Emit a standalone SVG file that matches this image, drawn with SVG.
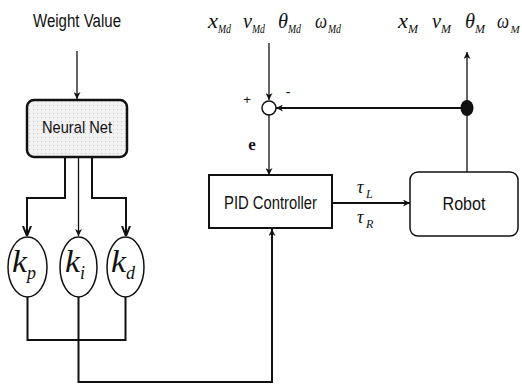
<svg xmlns="http://www.w3.org/2000/svg" width="522" height="386" viewBox="0 0 522 386">
<style>
.sans{font-family:"Liberation Sans",Arial,sans-serif;fill:#111}
.math{font-family:"Liberation Serif","Times New Roman",serif;font-style:italic;fill:#111}
.ln{fill:none;stroke:#111;stroke-width:2}
.thin{fill:none;stroke:#111;stroke-width:1.3}
.box{fill:#fff;stroke:#111;stroke-width:2}
</style>
<defs>
<marker id="ah" viewBox="0 0 10 10" refX="10" refY="5" markerWidth="7" markerHeight="7" markerUnits="userSpaceOnUse" orient="auto">
<path d="M0,0 L10,5 L0,10 L3,5 Z" fill="#111"/>
</marker>
<marker id="av" viewBox="0 0 10 10" refX="10" refY="5" markerWidth="10" markerHeight="10" markerUnits="userSpaceOnUse" orient="auto">
<path d="M0,1 L10,5 L0,9" fill="none" stroke="#111" stroke-width="2"/>
</marker>
<pattern id="stip" width="4" height="4" patternUnits="userSpaceOnUse">
<rect width="4" height="4" fill="#f2f2f2"/>
<rect x="1" y="1" width="1" height="1" fill="#c8c8c8"/>
</pattern>
</defs>

<g id="labels">
<text class="sans" x="77" y="27" font-size="18" text-anchor="middle" textLength="88" lengthAdjust="spacingAndGlyphs">Weight Value</text>
<text class="math" x="208" y="28" font-size="21" textLength="10" lengthAdjust="spacingAndGlyphs">x</text>
<text class="math" x="218" y="33" font-size="12" textLength="13" lengthAdjust="spacingAndGlyphs">Md</text>
<text class="math" x="243" y="28" font-size="21" textLength="9" lengthAdjust="spacingAndGlyphs">v</text>
<text class="math" x="252" y="33" font-size="12" textLength="13" lengthAdjust="spacingAndGlyphs">Md</text>
<text class="math" x="278" y="28" font-size="21" textLength="10" lengthAdjust="spacingAndGlyphs">θ</text>
<text class="math" x="288" y="33" font-size="12" textLength="13" lengthAdjust="spacingAndGlyphs">Md</text>
<text class="math" x="315" y="28" font-size="21" textLength="12" lengthAdjust="spacingAndGlyphs">ω</text>
<text class="math" x="328" y="33" font-size="12" textLength="13" lengthAdjust="spacingAndGlyphs">Md</text>
<text class="math" x="398" y="28" font-size="21" textLength="10" lengthAdjust="spacingAndGlyphs">x</text>
<text class="math" x="408" y="33" font-size="12">M</text>
<text class="math" x="432" y="28" font-size="21" textLength="9" lengthAdjust="spacingAndGlyphs">v</text>
<text class="math" x="441" y="33" font-size="12">M</text>
<text class="math" x="465" y="28" font-size="21" textLength="10" lengthAdjust="spacingAndGlyphs">θ</text>
<text class="math" x="475" y="33" font-size="12">M</text>
<text class="math" x="497" y="28" font-size="21" textLength="12" lengthAdjust="spacingAndGlyphs">ω</text>
<text class="math" x="510.5" y="33" font-size="11">M</text>
<text class="sans" x="247" y="104" font-size="13" text-anchor="middle">+</text>
<text class="sans" x="288" y="97" font-size="14" text-anchor="middle">-</text>
<text x="252" y="150" font-family="Liberation Serif,serif" font-weight="bold" font-size="17" text-anchor="middle" fill="#111">e</text>
<text class="math" x="357" y="193" font-size="18">τ</text>
<text class="math" x="366" y="198" font-size="12">L</text>
<text class="math" x="357" y="223" font-size="18">τ</text>
<text class="math" x="366" y="228" font-size="12">R</text>
</g>

<g id="neural-net">
<rect x="27" y="100" width="100" height="57" rx="7" fill="url(#stip)" stroke="#111" stroke-width="2.5"/>
<text class="sans" x="77" y="133" font-size="17" text-anchor="middle" textLength="70" lengthAdjust="spacingAndGlyphs">Neural Net</text>
</g>

<g id="kp">
<ellipse cx="27.5" cy="267" rx="19.5" ry="30" fill="#fff" stroke="#111" stroke-width="1.5"/>
<text class="math" x="12" y="272" font-size="32" textLength="15" lengthAdjust="spacingAndGlyphs">k</text>
<text class="math" x="27" y="279" font-size="18">p</text>
</g>
<g id="ki">
<ellipse cx="78.5" cy="267" rx="18.5" ry="30" fill="#fff" stroke="#111" stroke-width="1.5"/>
<text class="math" x="65" y="272" font-size="32" textLength="15" lengthAdjust="spacingAndGlyphs">k</text>
<text class="math" x="80" y="279" font-size="18">i</text>
</g>
<g id="kd">
<ellipse cx="125.5" cy="267" rx="18.5" ry="30" fill="#fff" stroke="#111" stroke-width="1.5"/>
<text class="math" x="111" y="272" font-size="32" textLength="15" lengthAdjust="spacingAndGlyphs">k</text>
<text class="math" x="126" y="279" font-size="18">d</text>
</g>

<g id="sum">
<circle cx="269" cy="108" r="7" fill="#fff" stroke="#111" stroke-width="1.5"/>
</g>
<g id="branch">
<ellipse cx="467" cy="108" rx="6.5" ry="8" fill="#111"/>
</g>

<g id="pid">
<rect x="209" y="175" width="123" height="53" class="box" stroke-width="2.5"/>
<text class="sans" x="270.5" y="209" font-size="18" text-anchor="middle" textLength="93" lengthAdjust="spacingAndGlyphs">PID Controller</text>
</g>

<g id="robot">
<rect x="410" y="172" width="108" height="64" rx="8" fill="#fff" stroke="#111" stroke-width="1.5"/>
<text class="sans" x="464" y="210" font-size="18" text-anchor="middle" textLength="43" lengthAdjust="spacingAndGlyphs">Robot</text>
</g>

<g id="connectors">
<line class="thin" x1="77" y1="51" x2="77" y2="99" marker-end="url(#ah)"/>
<polyline class="ln" points="65,157 65,198 27,198 27,236" marker-end="url(#av)"/>
<line class="thin" x1="78.5" y1="157" x2="78.5" y2="236" marker-end="url(#ah)"/>
<polyline class="ln" points="92,157 92,198 126,198 126,236" marker-end="url(#av)"/>
<polyline class="ln" points="27.5,297 27.5,340 125.5,340 125.5,297"/>
<polyline class="ln" points="78.5,297 78.5,382 272,382 272,229" marker-end="url(#ah)"/>
<line class="thin" x1="269" y1="43" x2="269" y2="100" marker-end="url(#ah)"/>
<line class="thin" x1="269" y1="115" x2="269" y2="175" marker-end="url(#ah)"/>
<line class="ln" x1="461" y1="108" x2="276" y2="108" marker-end="url(#ah)"/>
<line class="thin" x1="467" y1="172" x2="467" y2="52" marker-end="url(#ah)"/>
<line class="ln" x1="332" y1="203" x2="410" y2="203" marker-end="url(#ah)"/>
</g>
</svg>
